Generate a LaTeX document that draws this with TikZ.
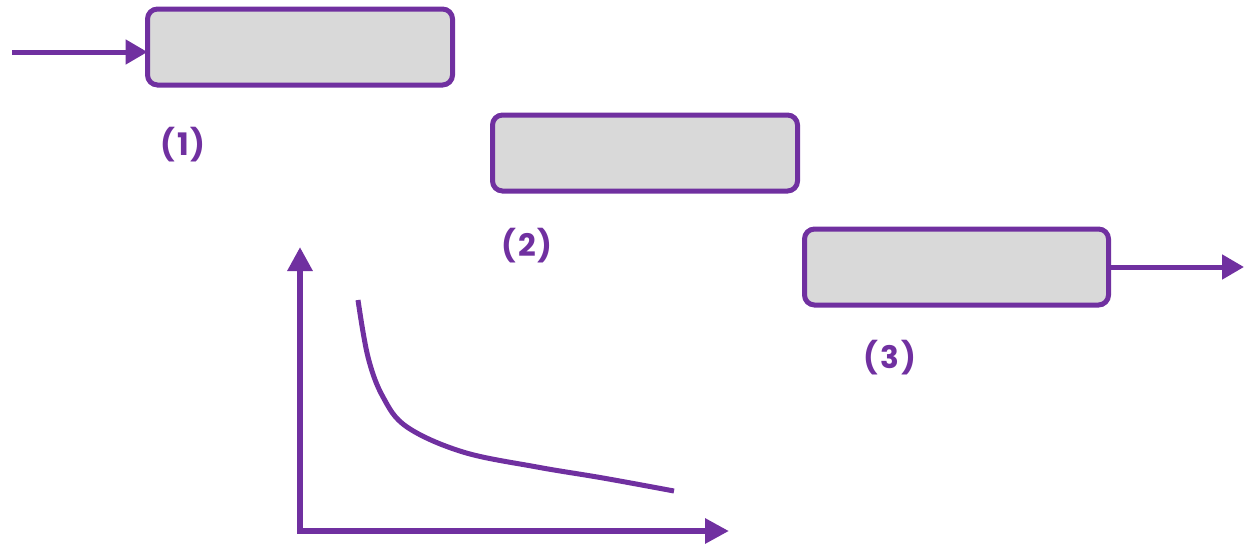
\documentclass[tikz,border=0pt]{standalone}
\usepackage{fontspec}
\setmainfont{Poppins}
\usetikzlibrary{arrows.meta}
\definecolor{vio}{HTML}{7030A0}
\definecolor{boxgray}{HTML}{D9D9D9}
\begin{document}
\begin{tikzpicture}[x=1pt,y=-1pt,
  stagebox/.style={draw=vio, fill=boxgray, line width=5pt, rounded corners=10pt,
    minimum width=305pt, minimum height=76pt, inner sep=0pt, outer sep=0pt},
  flow/.style={draw=vio, line width=5pt, -{Triangle[length=22pt,width=24pt]}},
  axis/.style={draw=vio, line width=6.5pt, -{Triangle[length=24pt,width=24pt]}},
  lbl/.style={text=vio, font=\fontsize{31}{36}\selectfont\bfseries, inner sep=0pt}]
\useasboundingbox (0,0) rectangle (1246,546);
\node[stagebox] (b1) at (300,47) {};
\node[stagebox] (b2) at (645,153) {};
\node[stagebox, minimum width=304pt] (b3) at (956.5,267) {};
\node[lbl] (l1) at (183,145) {(\kern2pt1\kern2pt)};
\node[lbl] (l2) at (527,246) {(\kern2pt2\kern2pt)};
\node[lbl] (l3) at (890,358) {(\kern2pt3\kern2pt)};
\coordinate (in) at (12,52);
\coordinate (out) at (1244,267);
\draw[flow] (in) -- (in -| b1.west);
\draw[flow] (b3.east) -- (out);
\coordinate (o) at (300,531);
\coordinate (ytop) at (300,247);
\coordinate (xend) at (729,531);
\draw[axis] ([yshift=3pt]o) -- (ytop);
\draw[axis] ([xshift=-3pt]o) -- (xend);
\draw[vio, line width=5pt] plot[smooth, tension=0.6] coordinates
  {(358,300) (368,357) (383,397) (407,427) (463,452) (537,467) (603,478) (674,491)};
\end{tikzpicture}
\end{document}
